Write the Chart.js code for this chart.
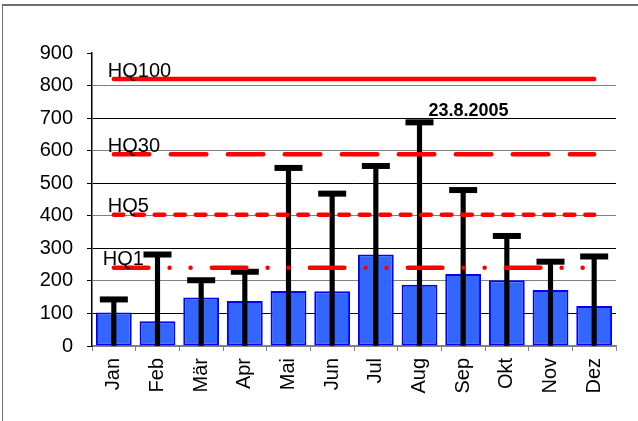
<!DOCTYPE html>
<html><head><meta charset="utf-8">
<script src="https://cdn.jsdelivr.net/npm/chart.js@4/dist/chart.umd.min.js"></script>
<style>
html,body{margin:0;padding:0;background:#fff;}
#wrap{position:relative;width:638px;height:421px;overflow:hidden;}
#frame{position:absolute;left:2px;top:4px;width:700px;height:500px;border-top:2px solid #707070;border-left:1px solid #707070;}
canvas{position:absolute;left:0;top:0;}
</style></head><body>
<div id="wrap"><div id="frame"></div><canvas id="c" width="638" height="421"></canvas></div>
<script>
// ---- data ----
const months = ['Jan','Feb','Mär','Apr','Mai','Jun','Jul','Aug','Sep','Okt','Nov','Dez'];
const meanValues = [103, 76, 149, 138, 169, 168, 281, 188, 221, 202, 172, 123];
const maxValues  = [143, 281, 202, 228, 547, 468, 553, 687, 479, 338, 259, 275];
const hqNames  = ['HQ1', 'HQ5', 'HQ30', 'HQ100'];
const hqValues = [240, 403, 589, 820];
const yTickMin = 0, yTickMax = 900, yTickStep = 100;
const annotationText = '23.8.2005';
const annotationMonth = 7;

// ---- styles ----
const hqDashes = [[34.5, 21.25, 0.01, 21, 0.01, 21.25], [9.5, 11], [35.5, 21.5], []];
const FONT = "'Liberation Sans', Arial, sans-serif";

const hqDatasets = hqValues.map((v, i) => ({
  type: 'line',
  label: hqNames[i],
  data: months.map(() => v),
  borderColor: '#ff0000',
  borderWidth: 4.5,
  borderDash: hqDashes[i],
  borderCapStyle: 'round',
  pointRadius: 0,
  fill: false,
  order: 0
}));

const labelPlugin = {
  id: 'hqLabels',
  afterDatasetsDraw(chart) {
    const ctx = chart.ctx, x = chart.scales.x, y = chart.scales.y;
    ctx.save();
    ctx.fillStyle = '#000';
    ctx.font = '20px ' + FONT;
    ctx.textAlign = 'left';
    ctx.textBaseline = 'alphabetic';
    hqValues.forEach((v, i) => {
      const dx = hqNames[i] === 'HQ1' ? -11 : -6;
      ctx.fillText(hqNames[i], x.getPixelForValue(0) + dx, y.getPixelForValue(v) - 2.5);
    });
    ctx.font = 'bold 18px ' + FONT;
    ctx.fillText(annotationText, x.getPixelForValue(annotationMonth) + 9, y.getPixelForValue(maxValues[annotationMonth]) - 6);
    ctx.restore();
  }
};

new Chart(document.getElementById('c'), {
  type: 'bar',
  data: {
    labels: months,
    datasets: [
      ...hqDatasets,
      {
        type: 'line', label: 'cap', data: maxValues, showLine: false,
        pointStyle: 'line', pointRadius: 14, pointBorderWidth: 6,
        pointBorderColor: '#000', pointBackgroundColor: '#000', order: 1
      },
      {
        type: 'bar', label: 'stem', data: maxValues.map(v => [0, v]),
        backgroundColor: '#000', barThickness: 4.5, grouped: false, order: 2
      },
      {
        type: 'bar', label: 'mean', data: meanValues,
        backgroundColor: '#3366ff', borderColor: '#0000ff', borderWidth: 2,
        borderSkipped: false,
        barPercentage: 0.82, categoryPercentage: 1, grouped: false, order: 3
      }
    ]
  },
  options: {
    responsive: false,
    animation: false,
    devicePixelRatio: 1,
    layout: { padding: { top: 53, right: 22, left: 0, bottom: 0 } },
    plugins: { legend: { display: false }, tooltip: { enabled: false }, title: { display: false } },
    scales: {
      x: {
        offset: true,
        grid: { display: true, drawOnChartArea: false, drawTicks: true, tickLength: 5, color: '#808080', offset: true },
        border: { color: '#808080', width: 1.5 },
        ticks: { font: { size: 20, family: FONT }, color: '#000', minRotation: 90, maxRotation: 90, padding: 7, autoSkip: false },
        afterFit(s) { s.height = 75; }
      },
      y: {
        min: yTickMin, max: yTickMax,
        ticks: { stepSize: yTickStep, font: { size: 20, family: FONT }, color: '#000', padding: 14 },
        grid: {
          color: (c) => c.tick.value === yTickMax ? 'rgba(0,0,0,0)' : ((c.tick.value / 100) % 2 === 1 ? '#000' : '#808080'),
          tickColor: '#000', tickLength: 5, lineWidth: 1
        },
        border: { color: '#000', width: 1.5 },
        afterFit(s) { s.width = 92; }
      }
    }
  },
  plugins: [labelPlugin]
});
</script>
</body></html>
